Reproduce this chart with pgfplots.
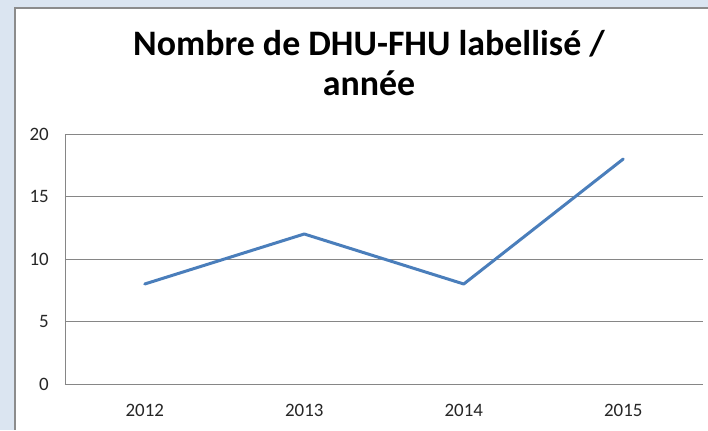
\documentclass[border=0pt]{standalone}
\usepackage{fontspec}
\setmainfont{Carlito}
\usepackage{pgfplots}
\pgfplotsset{compat=1.18}
\definecolor{bgblue}{HTML}{DBE5F1}
\definecolor{framegray}{HTML}{8C8C8C}
\definecolor{gridgray}{HTML}{868686}
\definecolor{lineblue}{HTML}{4A7EBB}
\begin{document}
\begin{tikzpicture}[x=1bp,y=1bp]
\useasboundingbox (-65,-46) rectangle (643,384);
\fill[bgblue] (-65,-46) rectangle (643,384);
\fill[framegray] (-51,-46) rectangle (643,377);
\fill[white] (-49,-46) rectangle (643,375);
\node[anchor=base,font=\fontsize{36}{40}\selectfont\bfseries] at (304,329) {Nombre de DHU-FHU labellisé /};
\node[anchor=base,font=\fontsize{36}{40}\selectfont\bfseries] at (304,289) {année};
\begin{axis}[
  at={(0,0)}, anchor=south west,
  scale only axis,
  width=638bp, height=250bp,
  xmin=0.5, xmax=4.5,
  ymin=0, ymax=20,
  xtick={1,2,3,4},
  xticklabels={2012,2013,2014,2015},
  ytick={0,5,10,15,20},
  ymajorgrids,
  major grid style={gridgray, line width=0.75bp},
  major tick length=0pt,
  axis line style={gridgray, line width=0.75bp},
  axis x line*=bottom,
  axis y line*=left,
  /pgf/number format/assume math mode=true,
  tick label style={font=\fontsize{19}{22}\selectfont, text=black!85},
  yticklabel style={anchor=east, inner sep=0pt, xshift=-16bp},
  xticklabel style={anchor=north, inner sep=0pt, yshift=-20bp},
  clip=false,
]
\addplot[lineblue, line width=3bp, line join=round, line cap=round] coordinates {(1,8) (2,12) (3,8) (4,18)};
\end{axis}
\end{tikzpicture}
\end{document}
